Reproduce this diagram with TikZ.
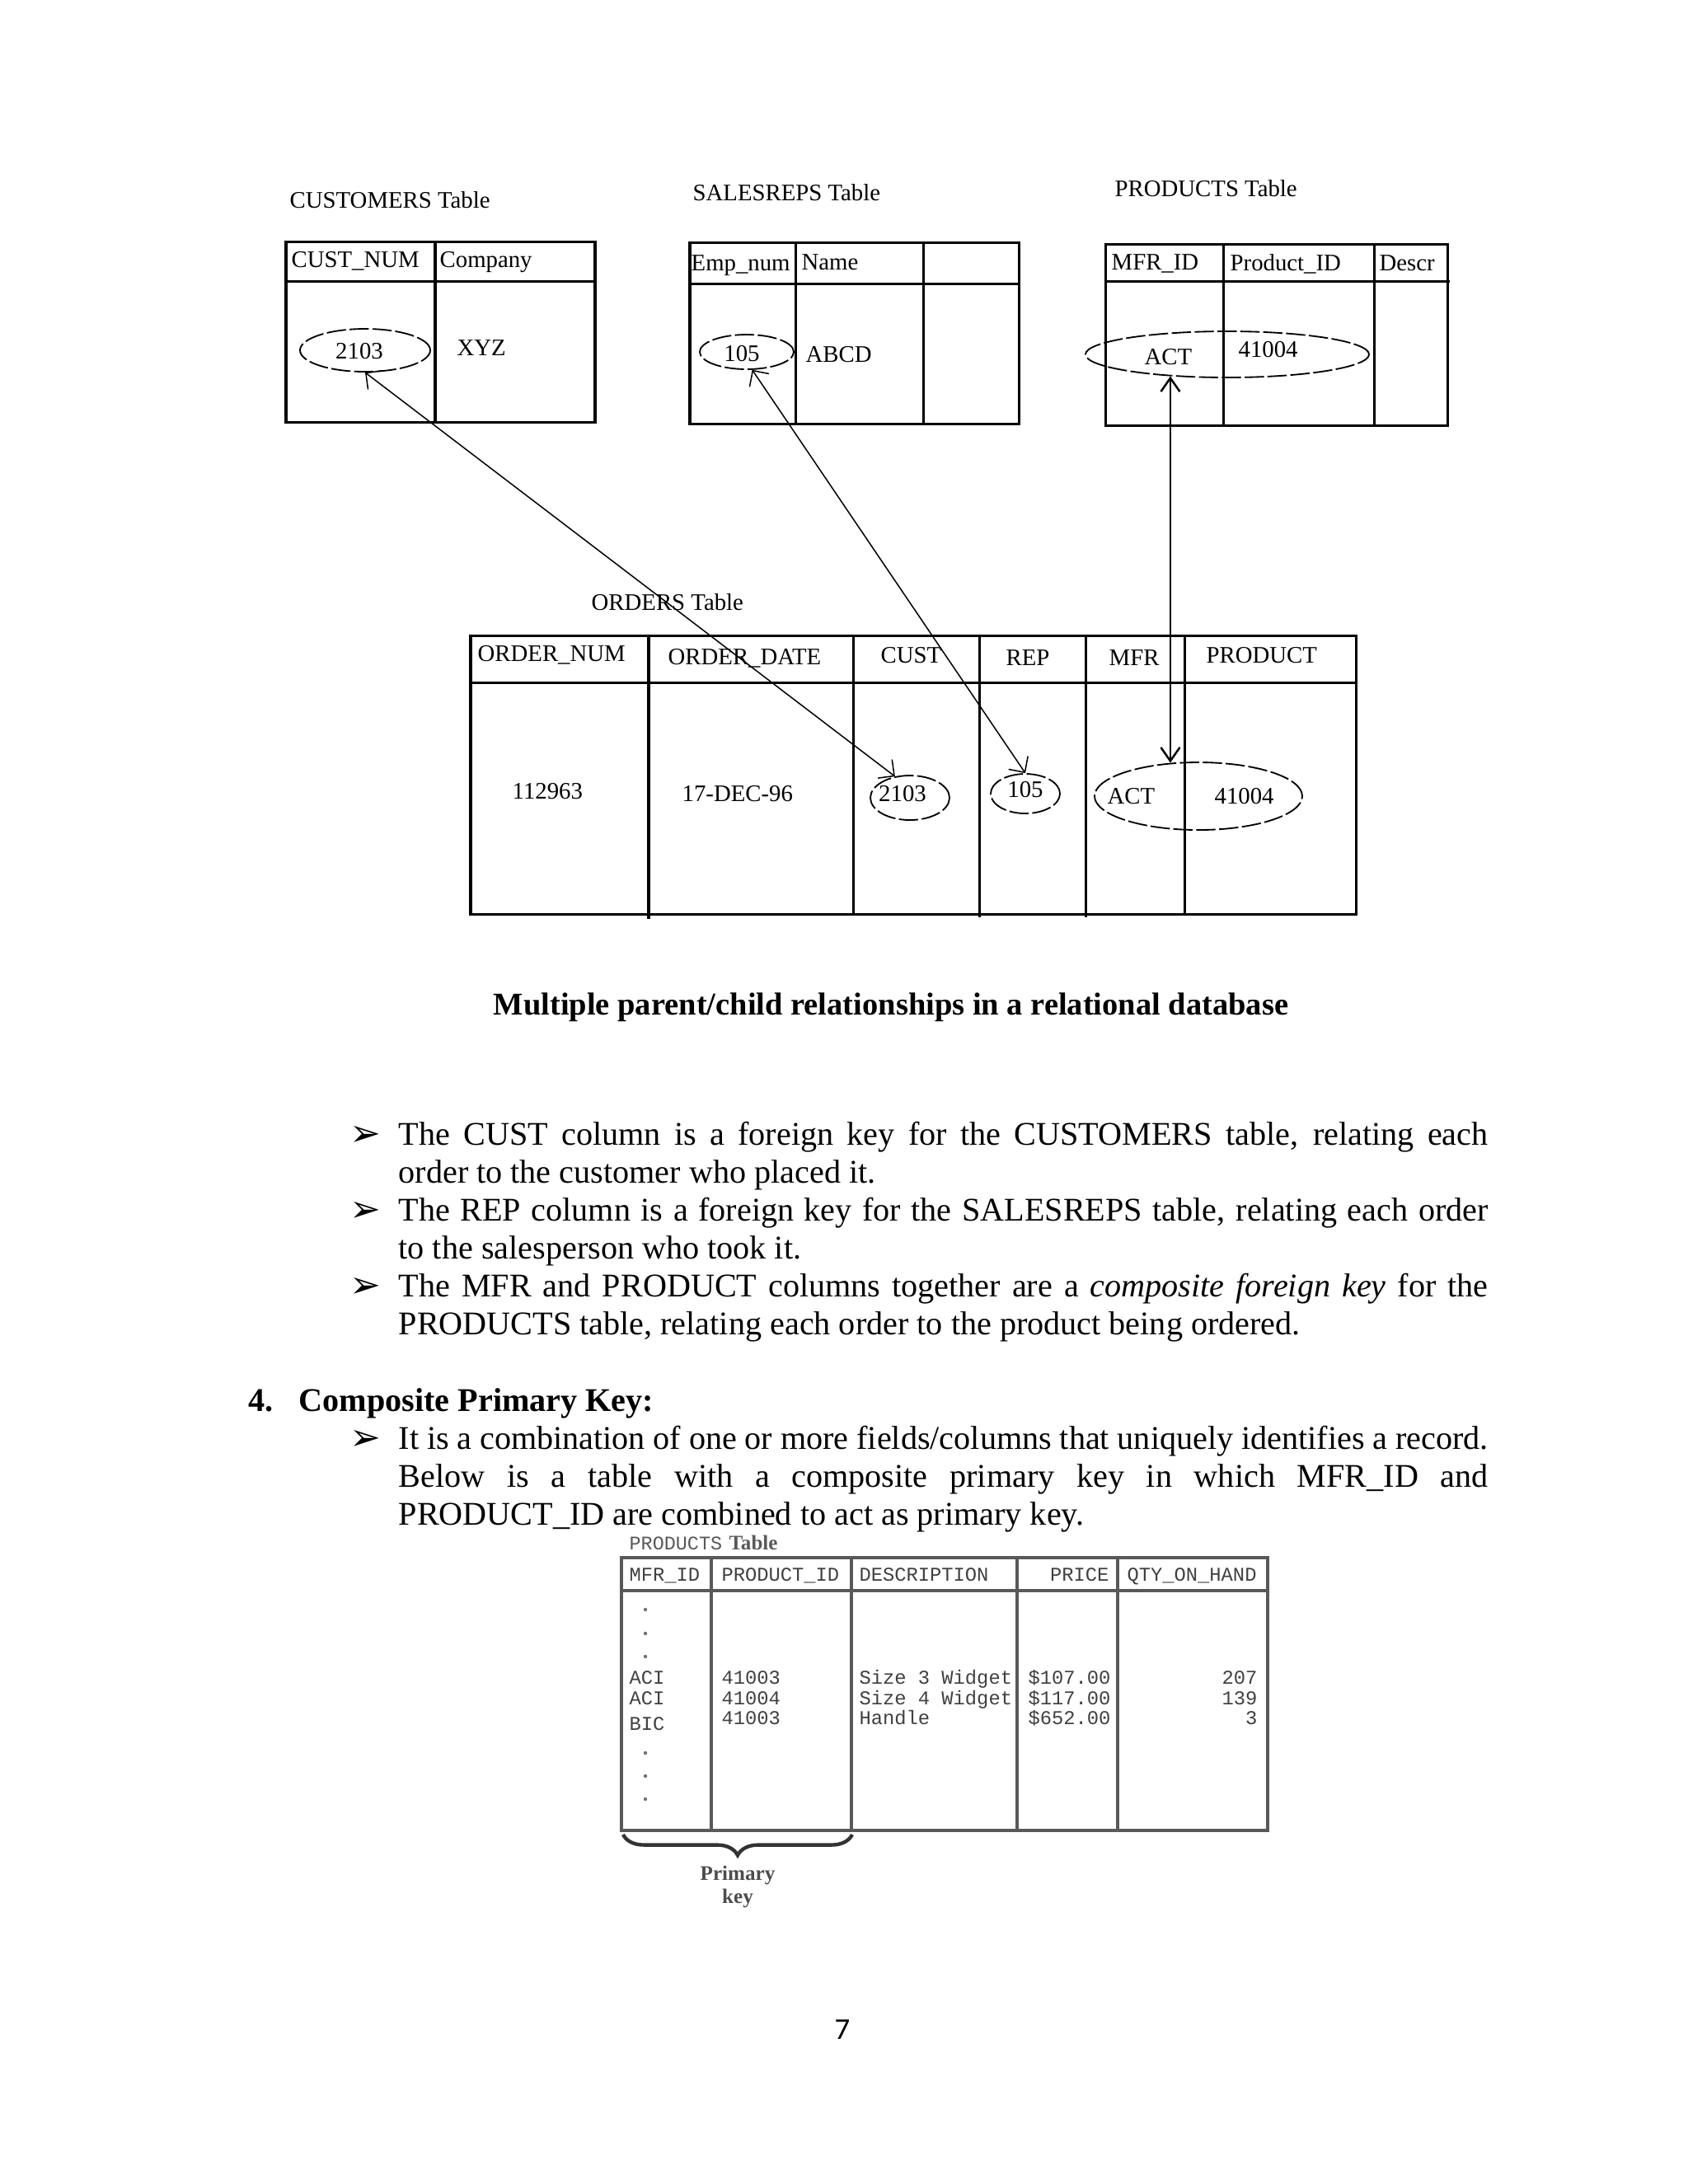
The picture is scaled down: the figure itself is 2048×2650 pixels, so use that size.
\documentclass[tikz,border=0pt]{standalone}
\usepackage{fontspec}
\setmainfont{Liberation Serif}
\newfontfamily\diagfont{Liberation Serif}
\newfontfamily\mfont{Liberation Mono}
\newfontfamily\symfont{DejaVu Sans}
\newfontfamily\calfont{Carlito}
\usetikzlibrary{shapes.geometric, arrows.meta, decorations.pathreplacing}
\newcommand{\pxu}{0.2988pt}
\tikzset{
  tbl/.style={line width=0.9pt, black},
  btbl/.style={line width=1pt, black!65},
  lbl/.style={anchor=base west, inner sep=0pt, font=\diagfont\fontsize{8.6}{10}\selectfont},
  cval/.style={anchor=base, inner sep=0pt, font=\diagfont\fontsize{8.6}{10}\selectfont},
  keyell/.style={draw, ellipse, dash pattern=on 7pt off 1.3pt, line width=0.55pt, inner sep=0pt},
  fk/.style={{Straight Barb[angle=90:6pt]}-{Straight Barb[angle=90:6pt]}, line width=0.45pt},
  fkv/.style={{Straight Barb[angle=70:6pt]}-{Straight Barb[angle=70:6pt]}, line width=0.75pt},
  body/.style={anchor=base west, inner sep=0pt, font=\fontsize{12}{14}\selectfont},
  bul/.style={anchor=base west, inner sep=0pt, font=\symfont\fontsize{13.5}{14}\selectfont},
  mtxt/.style={anchor=base west, inner sep=0pt, text=black!75, font=\mfont\fontsize{7.1}{8}\selectfont},
  mtxtr/.style={mtxt, anchor=base east},
  dotm/.style={fill=black!55}
}
\begin{document}
\begin{tikzpicture}[x=0.2988pt, y=-0.2988pt]
\fill[white] (0,0) rectangle (2048,2650);
\useasboundingbox (0,0) rectangle (2048,2650);

% ---------- CUSTOMERS table ----------
\node[lbl] (custT) at (351,252) {CUSTOMERS Table};
\draw[tbl] (347,293) rectangle (722,512);
\draw[tbl] (347,341) -- (722,341);
\draw[tbl] (528,293) -- (528,512);
\node[lbl] (custH1) at (353,324) {CUST\_NUM};
\node[lbl] (custH2) at (533,324) {Company};
\node[keyell, minimum width=158*\pxu, minimum height=52*\pxu] (c2103) at (443,425) {};
\node[cval] (c2103t) at (436,435) {2103};
\node[lbl] (cxyz) at (554,431) {XYZ};

% ---------- SALESREPS table ----------
\node[lbl] (salT) at (840,243) {SALESREPS Table};
\draw[tbl] (837,294) rectangle (1236,514);
\draw[tbl] (837,344) -- (1236,344);
\draw[tbl] (965,294) -- (965,514);
\draw[tbl] (1120,294) -- (1120,514);
\node[lbl] (salH1) at (838,328) {Emp\_num};
\node[lbl] (salH2) at (972,327) {Name};
\node[keyell, minimum width=114*\pxu, minimum height=42*\pxu] (s105) at (906,427) {};
\node[cval] (s105t) at (900,438) {105};
\node[lbl] (sabcd) at (977,439) {ABCD};

% ---------- PRODUCTS table ----------
\node[lbl] (prodT) at (1352,238) {PRODUCTS Table};
\draw[tbl] (1341,296) rectangle (1756,516);
\draw[tbl] (1341,341) -- (1759,341);
\draw[tbl] (1484,296) -- (1484,516);
\draw[tbl] (1667,296) -- (1667,516);
\node[lbl] (prodH1) at (1348,327) {MFR\_ID};
\node[lbl] (prodH2) at (1492,328) {Product\_ID};
\node[lbl] (prodH3) at (1673,328) {Descr};
\node[keyell, minimum width=344*\pxu, minimum height=56*\pxu] (pACT) at (1489,430) {};
\node[lbl] (pactt) at (1388,442) {ACT};
\node[lbl] (p41004) at (1502,433) {41004};

% ---------- ORDERS table ----------
\node[lbl] (ordT) at (717,740) {ORDERS Table};
\draw[tbl] (571,771) rectangle (1645,1109);
\draw[tbl] (571,828) -- (1645,828);
\draw[tbl] (787,771) -- (787,1115);
\draw[tbl] (1035,771) -- (1035,1109);
\draw[tbl] (1188,771) -- (1188,1113);
\draw[tbl] (1317,771) -- (1317,1113);
\draw[tbl] (1437,771) -- (1437,1109);
\node[lbl] (oH1) at (579,802) {ORDER\_NUM};
\node[lbl] (oH2) at (810,806) {ORDER\_DATE};
\node[lbl] (oH3) at (1068,804) {CUST};
\node[lbl] (oH4) at (1220,807) {REP};
\node[lbl] (oH5) at (1345,807) {MFR};
\node[lbl] (oH6) at (1463,804) {PRODUCT};
\node[lbl] (onum) at (621,969) {112963};
\node[lbl] (odate) at (827,972) {17-DEC-96};
\node[keyell, minimum width=96*\pxu, minimum height=54*\pxu] (o2103) at (1104,968) {};
\node[cval] (o2103t) at (1095,972) {2103};
\node[keyell, minimum width=84*\pxu, minimum height=48*\pxu] (o105) at (1244,963) {};
\node[cval] (o105t) at (1244,967) {105};
\node[keyell, minimum width=252*\pxu, minimum height=82*\pxu] (oACT) at (1454,966) {};
\node[lbl] (oactt) at (1343,975) {ACT};
\node[lbl] (o41004) at (1473,975) {41004};

% ---------- connectors ----------
\draw[fk] (c2103.south) -- (o2103.125);
\draw[fk] (s105.-73) -- (o105.north);
\draw[fkv] (pACT.201) -- (pACT.201 |- oACT.129);

% ---------- caption ----------
\node[anchor=base, inner sep=0pt, font=\bfseries\fontsize{11.5}{13}\selectfont] (cap) at (1081,1231)
  {Multiple parent/child relationships in a relational database};

% ---------- bullets ----------
\node[bul] (b1) at (424,1390) {➢};
\node[body] (l1) at (483,1389) {\makebox[395pt][s]{The CUST column is a foreign key for the CUSTOMERS table, relating each}};
\node[body] (l2) at (483,1435) {order to the customer who placed it.};
\node[bul] (b2) at (424,1482) {➢};
\node[body] (l3) at (483,1481) {\makebox[395pt][s]{The REP column is a foreign key for the SALESREPS table, relating each order}};
\node[body] (l4) at (483,1527) {to the salesperson who took it.};
\node[bul] (b3) at (424,1574) {➢};
\node[body] (l5) at (483,1573) {\makebox[395pt][s]{The MFR and PRODUCT columns together are a \textit{composite foreign key} for the}};
\node[body] (l6) at (483,1619) {PRODUCTS table, relating each order to the product being ordered.};

\node[body] (h4n) at (301,1712) {\bfseries 4.};
\node[body] (h4) at (362,1712) {\bfseries Composite Primary Key:};
\node[bul] (b4) at (424,1759) {➢};
\node[body] (l7) at (483,1758) {\makebox[395pt][s]{It is a combination of one or more fields/columns that uniquely identifies a record.}};
\node[body] (l8) at (483,1804) {\makebox[395pt][s]{Below is a table with a composite primary key in which MFR\_ID and}};
\node[body] (l9) at (483,1850) {PRODUCT\_ID are combined to act as primary key.};

% ---------- bottom PRODUCTS table ----------
\node[anchor=base west, inner sep=0pt, text=black!65] (bT) at (763,1880)
  {{\mfont\fontsize{7}{8}\selectfont PRODUCTS} {\bfseries\fontsize{7.5}{8}\selectfont Table}};
\draw[btbl] (754,1890) rectangle (1538,2221);
\draw[btbl] (754,1930) -- (1538,1930);
\draw[btbl] (863,1890) -- (863,2221);
\draw[btbl] (1033,1890) -- (1033,2221);
\draw[btbl] (1234,1890) -- (1234,2221);
\draw[btbl] (1356,1890) -- (1356,2221);
\node[mtxt] (bh1) at (763,1918) {MFR\_ID};
\node[mtxt] (bh2) at (875,1918) {PRODUCT\_ID};
\node[mtxt] (bh3) at (1042,1918) {DESCRIPTION};
\node[mtxtr] (bh4) at (1346,1918) {PRICE};
\node[mtxt] (bh5) at (1367,1918) {QTY\_ON\_HAND};
\foreach \yy in {1953,1982,2010,2127,2155,2183} \fill[dotm] (783,\yy) circle (2.2);
\node[mtxt] (r1a) at (763,2043) {ACI};
\node[mtxt] (r2a) at (763,2068) {ACI};
\node[mtxt] (r3a) at (763,2099) {BIC};
\node[mtxt] (r1b) at (875,2043) {41003};
\node[mtxt] (r2b) at (875,2068) {41004};
\node[mtxt] (r3b) at (875,2092) {41003};
\node[mtxt] (r1c) at (1042,2043) {Size 3 Widget};
\node[mtxt] (r2c) at (1042,2068) {Size 4 Widget};
\node[mtxt] (r3c) at (1042,2092) {Handle};
\node[mtxt] (r1d) at (1247,2043) {\$107.00};
\node[mtxt] (r2d) at (1247,2068) {\$117.00};
\node[mtxt] (r3d) at (1247,2092) {\$652.00};
\node[mtxtr] (r1e) at (1526,2043) {207};
\node[mtxtr] (r2e) at (1526,2068) {139};
\node[mtxtr] (r3e) at (1526,2092) {3};
\draw[line width=1.3pt, black!80, decorate, decoration={brace, mirror, amplitude=7.5pt}] (756,2226) -- (1034,2226);
\node[inner sep=0pt, text=black!70, font=\bfseries\fontsize{7.5}{9}\selectfont] (pk1) at (895,2275) {Primary};
\node[inner sep=0pt, text=black!70, font=\bfseries\fontsize{7.5}{9}\selectfont] (pk2) at (895,2303) {key};

% ---------- page number ----------
\node[anchor=base, inner sep=0pt, font=\calfont\fontsize{11}{13}\selectfont] (pg) at (1022,2474) {7};
\end{tikzpicture}
\end{document}
